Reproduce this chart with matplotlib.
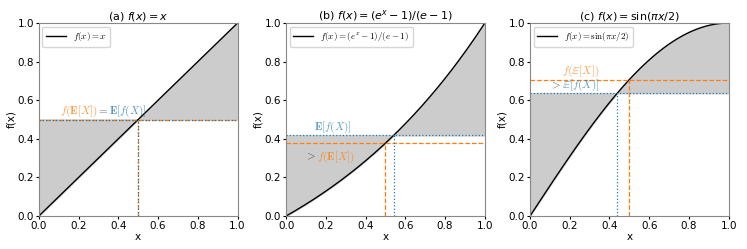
import matplotlib
matplotlib.use('Agg')
import matplotlib.pyplot as plt
import numpy as np

# curve samples and expectations for X ~ U(0, 1)
x = np.linspace(0, 1, 400)
curves = [x, (np.exp(x) - 1) / (np.e - 1), np.sin(np.pi * x / 2)]
titles = [r'(a) $f(x) = x$', r'(b) $f(x) = (e^x-1)/(e-1)$', r'(c) $f(x) = \sin(\pi x/2)$']
legend_labels = [r'$f(x)=x$', r'$f(x)=(e^x-1)/(e-1)$', r'$f(x)=\sin(\pi x/2)$']
e_x = 0.5
f_e_x = [0.5, (np.exp(0.5) - 1) / (np.e - 1), np.sin(np.pi / 4)]   # f(E[X])
e_f_x = [0.5, (np.e - 2) / (np.e - 1), 2 / np.pi]                  # E[f(X)]
x_at_ef = [0.5, np.log(1 + (np.e - 2)), 2 / np.pi * np.arcsin(2 / np.pi)]

plt.rcParams['font.size'] = 7.5
plt.rcParams['mathtext.fontset'] = 'dejavusans'

fig = plt.figure(figsize=(7.47, 2.49), dpi=100)
lefts = [0.052, 0.383, 0.7095]
axes = [fig.add_axes([l, 0.1325, 0.266, 0.775]) for l in lefts]

orange = 'tab:orange'
blue = 'tab:blue'
renderer = fig.canvas.get_renderer()


def chain(ax, x0, y0, pieces, size=8):
    # write coloured pieces of text one after the other on one baseline
    xx = x0
    for s, c, a in pieces:
        t = ax.text(xx, y0, s, color=c, alpha=a, fontsize=size, va='baseline',
                    math_fontfamily='cm')
        bb = t.get_window_extent(renderer)
        xx = ax.transData.inverted().transform((bb.x1, bb.y0))[0]


for i, ax in enumerate(axes):
    y = curves[i]
    ax.fill_between(x, y, e_f_x[i], color='#cccccc')
    ax.plot(x, y, color='black', lw=1, label=legend_labels[i])
    ax.axhline(f_e_x[i], color=orange, ls='--', lw=0.9)
    ax.axhline(e_f_x[i], color=blue, ls=':', lw=0.9)
    ax.plot([e_x, e_x], [0, f_e_x[i]], color=orange, ls='--', lw=0.9)
    ax.plot([x_at_ef[i], x_at_ef[i]], [0, e_f_x[i]], color=blue, ls=':', lw=0.9)
    ax.set_xlim(0, 1)
    ax.set_ylim(0, 1)
    ax.set_xlabel('x', labelpad=1)
    ax.set_ylabel('f(x)', labelpad=1)
    ax.set_title(titles[i], fontsize=8, pad=2)
    ax.tick_params(length=2, pad=1.5)
    for s in ax.spines.values():
        s.set_color('#888888')
    ax.legend(loc='upper left', prop={'math_fontfamily': 'cm', 'size': 6.5},
              handlelength=2.2, borderaxespad=0.4)

# annotations
chain(axes[0], 0.105, 0.53, [(r'$f(\mathbf{E}[X])$', orange, 0.75),
                              (r'$=$', 'black', 0.6),
                              (r'$\mathbf{E}[f(X)]$', blue, 0.75)])
chain(axes[1], 0.14, e_f_x[1] + 0.03, [(r'$\mathbf{E}[f(X)]$', blue, 0.7)])
chain(axes[1], 0.095, f_e_x[1] - 0.085, [(r'$>$', 'black', 0.6),
                                         (r'$f(\mathbf{E}[X])$', orange, 0.75)])
chain(axes[2], 0.16, f_e_x[2] + 0.03, [(r'$f(\mathbb{E}[X])$', orange, 0.7)])
chain(axes[2], 0.1, e_f_x[2] + 0.025, [(r'$>$', 'black', 0.6),
                                       (r'$\mathbb{E}[f(X)]$', blue, 0.7)])

fig.savefig('out.png', dpi=100)
